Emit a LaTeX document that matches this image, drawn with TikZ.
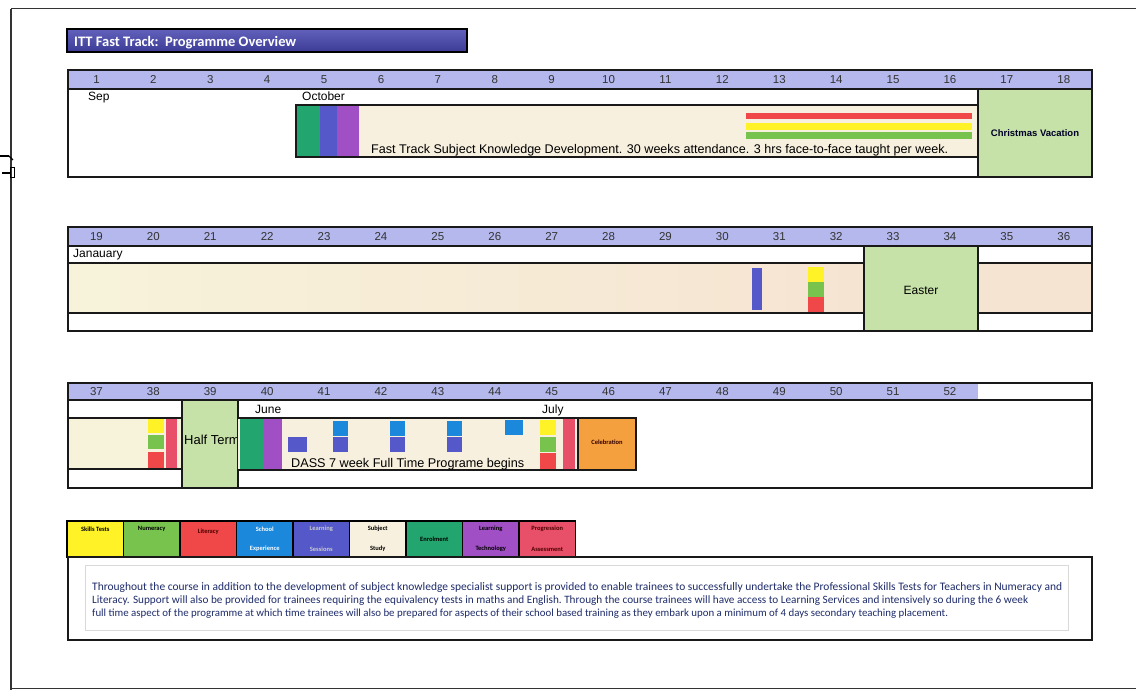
\documentclass[tikz,border=0pt]{standalone}
\usepackage{fontspec}
\setmainfont{Liberation Sans}
\newfontfamily\calfont{Carlito}
\usetikzlibrary{shapes.geometric}
\definecolor{hdr}{HTML}{B4B8EC}
\definecolor{vac}{HTML}{C6E2A8}
\definecolor{creamA}{HTML}{F8F0DE}
\definecolor{creamL}{HTML}{F7F3DA}
\definecolor{creamR}{HTML}{F6E4D2}
\definecolor{enrol}{HTML}{22A56E}
\definecolor{lsess}{HTML}{5458C8}
\definecolor{ltech}{HTML}{A050C4}
\definecolor{lit}{HTML}{F04848}
\definecolor{skill}{HTML}{FFF226}
\definecolor{num}{HTML}{78C24E}
\definecolor{school}{HTML}{1C88DC}
\definecolor{pbar}{HTML}{E8506A}
\definecolor{orng}{HTML}{F5A03E}
\definecolor{ttl}{HTML}{4646B0}
\definecolor{bodyblue}{HTML}{1E2C6A}
\begin{document}
\begin{tikzpicture}[x=1pt,y=-1pt,
  frame/.style={draw=black!90, line width=1.8pt},
  inner/.style={draw=black!90, line width=1.3pt},
  wk/.style={font=\fontsize{11.5}{11.5}\selectfont, text=black!80},
  month/.style={font=\fontsize{12}{12}\selectfont, anchor=base west, inner sep=0pt},
  legtxt/.style={font=\calfont\bfseries\fontsize{6.5}{6.5}\selectfont, inner sep=0pt}]
\useasboundingbox (0,0) rectangle (1136,690);
\fill[white] (0,0) rectangle (1136,690);
% page edge
\draw[line width=1pt, black!80] (11,9) -- (1136,9);
\draw[line width=1.2pt, black!80] (11,9) -- (11,690);
\draw[line width=1pt, black!80] (11,688) -- (1136,688);
\draw[line width=2pt] (0,156) -- (9,156);
\draw[line width=1.2pt] (9,156) -- (13,160);
\draw[line width=2pt] (2,173) -- (10,173);
\draw[line width=1pt] (10,168) rectangle (14,178);

% title
\shade[top color=ttl!85!white, bottom color=ttl!85!black] (67,29) rectangle (467,52);
\draw[line width=1.6pt] (67,29) rectangle (467,52);
\node[font=\calfont\bfseries\fontsize{14.5}{14.5}\selectfont, text=white, anchor=base west, inner sep=0pt] (title) at (74,46.5) {ITT Fast Track:\ \ Programme Overview};

% ---------- Row 1 ----------
\fill[hdr] (68,70) rectangle (1092,89);
\fill[vac] (978,89) rectangle (1092,177);
\fill[creamA] (296,105) rectangle (978,157);
\fill[enrol] (297,105) rectangle (320,157);
\fill[lsess] (320,105) rectangle (337,157);
\fill[ltech] (337,105) rectangle (359,157);
\fill[lit] (746,113) rectangle (972,119);
\fill[skill] (746,123) rectangle (972,130);
\fill[num] (746,132) rectangle (972,139);
\draw[inner] (296,105) rectangle (978,157);
\draw[inner] (978,89) -- (978,177);
\draw[inner] (68,89) -- (1092,89);
\draw[frame] (68,70) rectangle (1092,177);
\foreach \i in {1,...,18} \node[wk] (wa\i) at ({68+56.9*(\i-0.5)},79.5) {\i};
\node[month] (sep) at (88,101) {Sep};
\node[month] (oct) at (302,101) {October};
\node[anchor=base west, inner sep=0pt] (fasttrack) at (371,154) {\resizebox{577pt}{!}{\fontsize{12}{12}\selectfont Fast Track Subject Knowledge Development. 30 weeks attendance. 3 hrs face-to-face taught per week.}};
\node[font=\bfseries\fontsize{9.5}{9.5}\selectfont, text=black!85!blue] (xmas) at (1035,133) {Christmas Vacation};

% ---------- Row 2 ----------
\fill[hdr] (68,227) rectangle (1092,246);
\shade[left color=creamL, right color=creamR] (68,263) rectangle (864,313);
\fill[creamR] (978,263) rectangle (1092,313);
\fill[vac] (864,246) rectangle (978,331);
\fill[lsess] (752,268) rectangle (762,310);
\fill[skill] (808,267) rectangle (824,282);
\fill[num] (808,282) rectangle (824,297);
\fill[lit] (808,297) rectangle (824,312);
\draw[inner] (68,263) -- (864,263) (68,313) -- (864,313);
\draw[inner] (978,263) -- (1092,263) (978,313) -- (1092,313);
\draw[inner] (864,246) rectangle (978,331);
\draw[inner] (68,246) -- (1092,246);
\draw[frame] (68,227) rectangle (1092,331);
\foreach \i in {19,...,36} \node[wk] (wb\i) at ({68+56.9*(\i-18.5)},236.5) {\i};
\node[month, anchor=base west] (jan) at (73,258) {Janauary};
\node[font=\fontsize{12}{12}\selectfont] (easter) at (921,290) {Easter};

% ---------- Row 3 ----------
\fill[hdr] (68,383) rectangle (978,400);
\fill[creamL] (68,418) rectangle (182,469);
\fill[skill] (148,419) rectangle (164,433);
\fill[num] (148,435) rectangle (164,449);
\fill[lit] (148,452) rectangle (164,468);
\fill[pbar] (166,419) rectangle (177,468);
\draw[inner] (68,418) -- (182,418) (68,469) -- (182,469);
\fill[vac] (182,400) rectangle (238,488);
\begin{scope}
\clip (182,400) rectangle (237,488);
\node[font=\fontsize{13}{13}\selectfont, anchor=base west, inner sep=0pt] (half) at (184,444.5) {Half Term};
\end{scope}
\draw[inner] (182,400) rectangle (238,488);
\fill[creamA] (238,418) rectangle (578,470);
\fill[enrol] (240,418) rectangle (264,470);
\fill[ltech] (264,418) rectangle (282,470);
\fill[lsess] (288,437) rectangle (307,452);
\foreach \x in {333,390,447} {
  \fill[school] (\x,421) rectangle (\x+15,436);
  \fill[lsess] (\x,437) rectangle (\x+15,452);
}
\fill[school] (505,420) rectangle (523,435);
\fill[skill] (540,420) rectangle (556,435);
\fill[num] (540,437) rectangle (556,452);
\fill[lit] (540,453) rectangle (556,469);
\fill[pbar] (563,419) rectangle (575,469);
\fill[orng] (578,418) rectangle (636,470);
\draw[inner] (238,418) -- (636,418) (238,470) -- (636,470);
\draw[frame] (578,418) rectangle (636,470);
\node[font=\calfont\bfseries\fontsize{6.5}{6.5}\selectfont, text=black!80!red] (celeb) at (607,442) {Celebration};
\draw[inner] (68,400) -- (1092,400);
\draw[frame] (68,383) rectangle (1092,488);
\foreach \i in {37,...,52} \node[wk] (wc\i) at ({68+56.9*(\i-36.5)},391.5) {\i};
\node[month] (june) at (255,413) {June};
\node[month] (july) at (542,413) {July};
\node[anchor=base west, inner sep=0pt] (dass) at (291,467) {\resizebox{233pt}{!}{\fontsize{12}{12}\selectfont DASS 7 week Full Time Programe begins}};

% ---------- Legend ----------
\foreach \c [count=\k from 0] in {skill,num,lit,school,lsess,creamA,enrol,ltech,pbar}
  \fill[\c] ({67+56.5*\k},521) rectangle ({67+56.5*(\k+1)},557);
\foreach \k in {0,...,8}
  \draw[line width=1.5pt] ({67+56.5*\k},521) rectangle ({67+56.5*(\k+1)},557);
\node[legtxt] (l1) at (95.25,529) {Skills Tests};
\node[legtxt] (l2) at (151.75,529) {Numeracy};
\node[legtxt, text=black!70!red] (l3) at (208.25,532) {Literacy};
\node[legtxt, text=white] (l4a) at (264.75,529) {School};
\node[legtxt, text=white] (l4b) at (264.75,549) {Experience};
\node[legtxt, text=black!20] (l5a) at (321.25,529) {Learning};
\node[legtxt, text=black!20] (l5b) at (321.25,549) {Sessions};
\node[legtxt] (l6a) at (377.75,529) {Subject};
\node[legtxt] (l6b) at (377.75,549) {Study};
\node[legtxt] (l7) at (434.25,539) {Enrolment};
\node[legtxt] (l8a) at (490.75,529) {Learning};
\node[legtxt] (l8b) at (490.75,549) {Technology};
\node[legtxt, text=black!70!red] (l9a) at (547.25,529) {Progression};
\node[legtxt, text=black!70!red] (l9b) at (547.25,549) {Assessment};

% ---------- Text box ----------
\draw[frame] (68,557) rectangle (1092,640);
\draw[black!15, line width=0.8pt] (85,565) rectangle (1068,630);
\node[anchor=base west, inner sep=0pt, text=bodyblue] (t1) at (92,590) {\resizebox{970pt}{!}{\calfont\fontsize{8}{8}\selectfont Throughout the course\ in addition to the development of subject knowledge specialist support is provided to enable trainees to successfully\ undertake the Professional\ Skills Tests for Teachers in Numeracy and}};
\node[anchor=base west, inner sep=0pt, text=bodyblue] (t2) at (92,603) {\resizebox{936pt}{!}{\calfont\fontsize{8}{8}\selectfont Literacy. Support will also be provided for trainees requiring the equivalency\ tests in maths and English.\ Through the course\ trainees will have access to Learning Services and\ intensively so during\ the 6 week}};
\node[anchor=base west, inner sep=0pt, text=bodyblue] (t3) at (92,616) {\resizebox{856pt}{!}{\calfont\fontsize{8}{8}\selectfont full time aspect of the programme at which time trainees will also be prepared for aspects of their school based training as they embark upon a minimum of 4 days secondary teaching placement.}};
\end{tikzpicture}
\end{document}
